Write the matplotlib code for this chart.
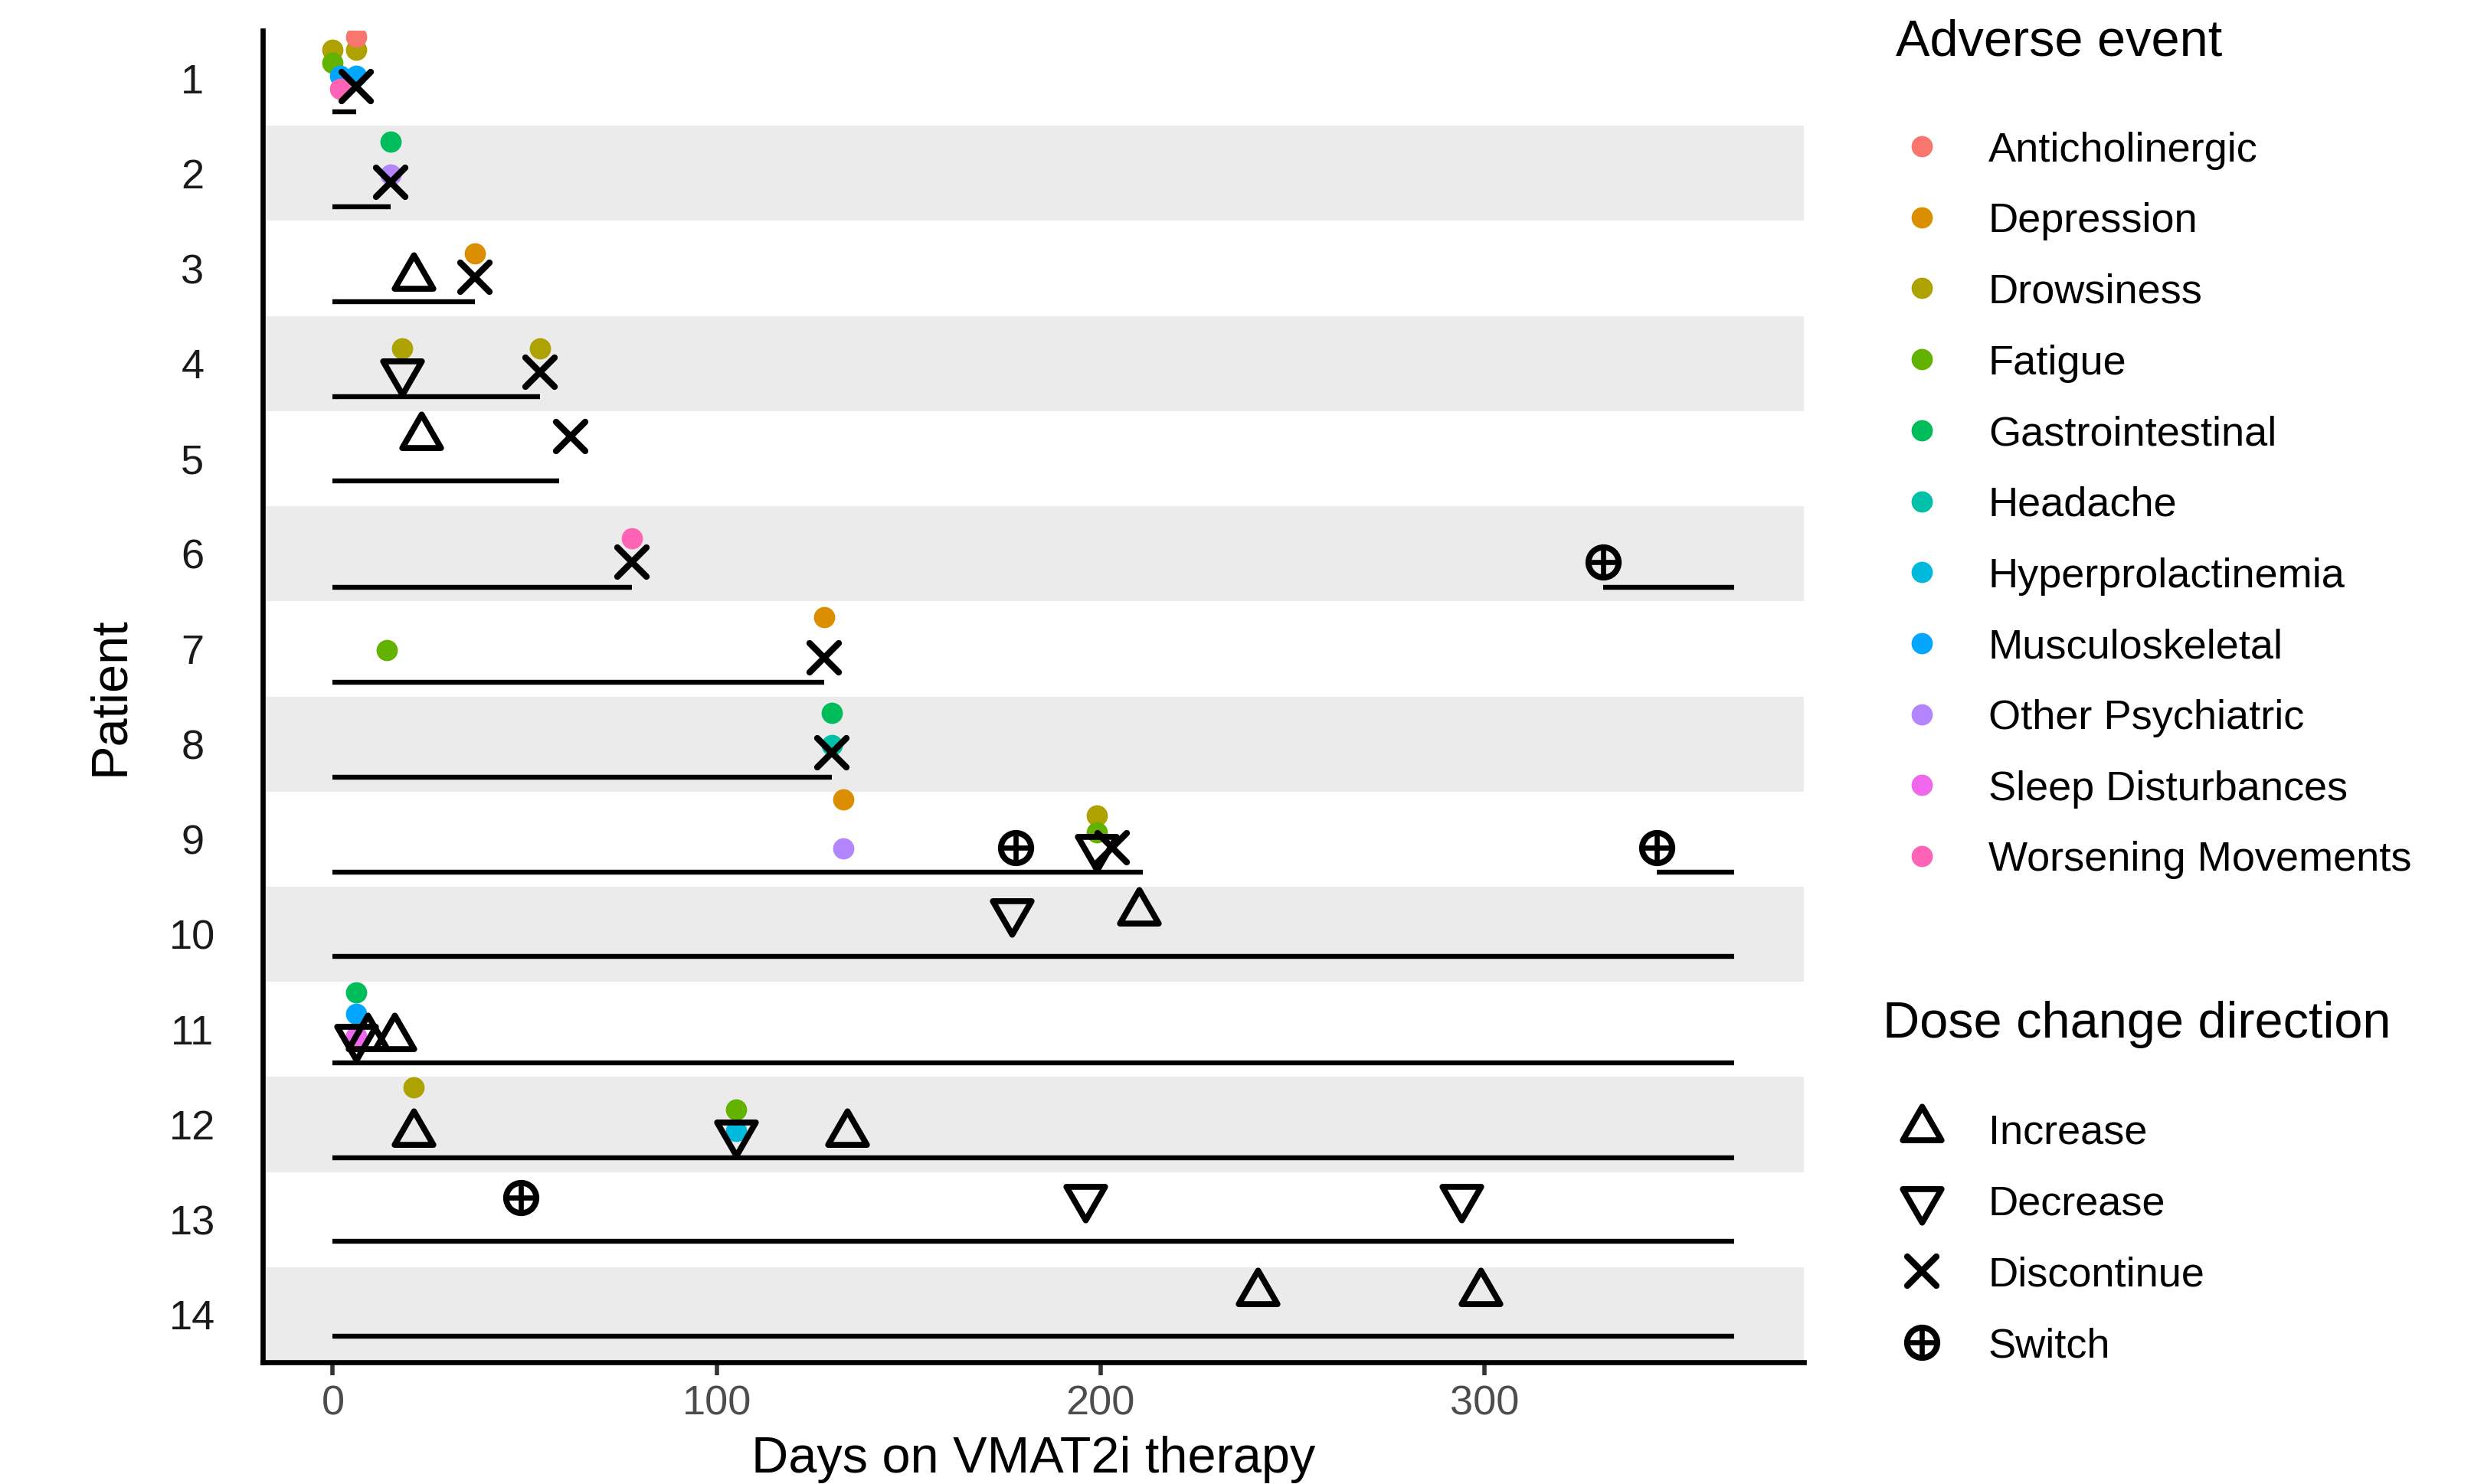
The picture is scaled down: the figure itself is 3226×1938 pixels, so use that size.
import numpy as np
import matplotlib
matplotlib.use("Agg")
import matplotlib.pyplot as plt
from matplotlib.path import Path
from matplotlib.markers import MarkerStyle

plt.rcParams['font.family'] = ['Liberation Sans', 'DejaVu Sans']


# =============================================================================
# DATA
# =============================================================================

patients = list(range(1, 15))

# therapy periods, one entry per drawn segment
seg_patient = [1, 2, 3, 4, 5, 6, 6, 7, 8, 9, 9, 10, 11, 12, 13, 14]
seg_start = [0, 0, 0, 0, 0, 0, 331, 0, 0, 0, 345, 0, 0, 0, 0, 0]
seg_end = [6, 15, 37, 54, 59, 78, 365, 128, 130, 211, 365, 365, 365, 365, 365, 365]

# dose changes
dose_patient = [1, 2, 3, 3, 4, 4, 5, 5, 6, 6,
                7, 8, 9, 9, 9, 9, 10, 10, 11, 11,
                11, 12, 12, 12, 13, 13, 13, 14, 14]
dose_day = [6, 15, 21, 37, 18, 54, 23, 62, 78, 331,
            128, 130, 178, 199, 203, 345, 177, 210, 6, 9,
            16, 21, 105, 134, 49, 196, 294, 241, 299]
dose_type = ["Discontinue", "Discontinue", "Increase", "Discontinue", "Decrease",
             "Discontinue", "Increase", "Discontinue", "Discontinue", "Switch",
             "Discontinue", "Discontinue", "Switch", "Decrease", "Discontinue",
             "Switch", "Decrease", "Increase", "Decrease", "Increase",
             "Increase", "Increase", "Decrease", "Increase", "Switch",
             "Decrease", "Decrease", "Increase", "Increase"]

# adverse events
ae_patient = [1, 1, 1, 1, 1, 1, 1, 2, 2, 3, 4, 4, 6, 7, 7, 8, 8,
              9, 9, 9, 9, 11, 11, 11, 12, 12, 12]
ae_day = [0, 0, 2, 2, 6, 6, 6, 15, 15, 37, 18, 54, 78, 14, 128, 130, 130,
          133, 133, 199, 199, 6, 6, 6, 21, 105, 105]
ae_type = ["Drowsiness", "Fatigue", "Musculoskeletal", "Worsening Movements",
           "Musculoskeletal", "Drowsiness", "Anticholinergic",
           "Gastrointestinal", "Other Psychiatric", "Depression",
           "Drowsiness", "Drowsiness", "Worsening Movements",
           "Fatigue", "Depression", "Gastrointestinal", "Headache",
           "Depression", "Other Psychiatric", "Drowsiness", "Fatigue",
           "Gastrointestinal", "Musculoskeletal", "Sleep Disturbances",
           "Drowsiness", "Fatigue", "Hyperprolactinemia"]

ae_categories = ["Anticholinergic", "Depression", "Drowsiness", "Fatigue",
                 "Gastrointestinal", "Headache", "Hyperprolactinemia",
                 "Musculoskeletal", "Other Psychiatric", "Sleep Disturbances",
                 "Worsening Movements"]
ae_colors = ["#F8766D", "#DB8E00", "#AEA200", "#64B200", "#00BD5C", "#00C1A7",
             "#00BADE", "#00A6FF", "#B385FF", "#EF67EB", "#FF63B6"]

dose_categories = ["Increase", "Decrease", "Discontinue", "Switch"]
x_ticks = [0, 100, 200, 300]


# =============================================================================
# LAYOUT / STYLE
# =============================================================================

W, H = 3226, 1938
DPI = 200

# offsets inside a patient row (row units, positive = downwards)
LINE_OFF_AE, DOSE_OFF_AE = 0.35, 0.09
AE_CENTER, AE_SPREAD = -0.16, 0.68
LINE_OFF_PLAIN, DOSE_OFF_PLAIN = 0.23, -0.23

TRI_UP = Path([(0, 1.555), (1.347, -0.778), (-1.347, -0.778), (0, 1.555)],
              [Path.MOVETO, Path.LINETO, Path.LINETO, Path.CLOSEPOLY])
TRI_DOWN = Path([(0, -1.555), (1.347, 0.778), (-1.347, 0.778), (0, -1.555)],
                [Path.MOVETO, Path.LINETO, Path.LINETO, Path.CLOSEPOLY])

MARKERS = {
    "Increase": dict(marker=MarkerStyle(TRI_UP, joinstyle='round'), ms=21, mew=2.8),
    "Decrease": dict(marker=MarkerStyle(TRI_DOWN, joinstyle='round'), ms=21, mew=2.8),
    "Discontinue": dict(marker=MarkerStyle('x', capstyle='round'), ms=14, mew=3.0),
}
DOT_SIZE = 10


def draw_dose_marker(ax, x, y, kind, zorder=4):
    """Draw one dose-change symbol (open, black)."""
    if kind == "Switch":
        ax.plot(x, y, ls='none', marker='o', ms=14.2, mfc='none', mec='black',
                mew=2.8, zorder=zorder)
        ax.plot(x, y, ls='none', marker=MarkerStyle('+', capstyle='butt'),
                ms=14.2, mec='black', mew=2.4, zorder=zorder)
    else:
        st = MARKERS[kind]
        ax.plot(x, y, ls='none', marker=st["marker"], ms=st["ms"], mfc='none',
                mec='black', mew=st["mew"], zorder=zorder)


def px(x, y):
    """Pixel position (from top left) to figure fraction."""
    return x / W, 1 - y / H


# =============================================================================
# PLOT
# =============================================================================

fig = plt.figure(figsize=(W / DPI, H / DPI), dpi=DPI)
left, top, right, bottom = 343, 40, 2355, 1779
ax = fig.add_axes([left / W, 1 - bottom / H, (right - left) / W, (bottom - top) / H])
ax.set_xlim(-18.25, 383.25)
ax.set_ylim(14.5, 0.5)

# alternating row bands
for p in patients:
    if p % 2 == 0:
        ax.axhspan(p - 0.5, p + 0.5, color='#EBEBEB', lw=0, zorder=0)

has_ae = set(ae_patient)

# therapy lines
seg_y = [p + (LINE_OFF_AE if p in has_ae else LINE_OFF_PLAIN) for p in seg_patient]
lc = ax.hlines(seg_y, seg_start, seg_end, color='black', lw=2.3, zorder=2)
lc.set_capstyle('butt')

# adverse events, dodged by category inside each patient row
for p in sorted(has_ae):
    cats = sorted({t for pp, t in zip(ae_patient, ae_type) if pp == p})
    n = len(cats)
    for d, pp, t in zip(ae_day, ae_patient, ae_type):
        if pp != p:
            continue
        i = cats.index(t)
        y = p + AE_CENTER + (i - (n - 1) / 2) * AE_SPREAD / n
        ax.plot(d, y, ls='none', marker='o', ms=DOT_SIZE, mew=0,
                color=ae_colors[ae_categories.index(t)], zorder=3)

# dose changes
for p, d, t in zip(dose_patient, dose_day, dose_type):
    y = p + (DOSE_OFF_AE if p in has_ae else DOSE_OFF_PLAIN)
    draw_dose_marker(ax, d, y, t)

# axes styling (classic look)
for s in ['top', 'right']:
    ax.spines[s].set_visible(False)
for s in ['left', 'bottom']:
    ax.spines[s].set_linewidth(2.4)
    ax.spines[s].set_color('black')

ax.set_xticks(x_ticks)
ax.set_xticklabels([str(v) for v in x_ticks])
ax.tick_params(axis='x', length=6, width=2, color='#333333', pad=4.5,
               labelsize=19.5, labelcolor='#4D4D4D')
ax.set_yticks(patients)
ax.set_yticklabels([str(p) for p in patients])
ax.tick_params(axis='y', length=0, pad=33, labelsize=19.5, labelcolor='#1A1A1A')
for lbl in ax.get_yticklabels():
    lbl.set_horizontalalignment('center')

# axis titles
fig.text(*px((left + right) / 2, 1923), "Days on VMAT2i therapy", fontsize=24,
         ha='center', va='baseline')
fig.text(*px(161, (top + bottom) / 2), "Patient", fontsize=24, rotation=90,
         rotation_mode='anchor', ha='center', va='baseline')

# =============================================================================
# LEGENDS (drawn by hand in pixel coordinates)
# =============================================================================

lax = fig.add_axes([0, 0, 1, 1])
lax.set_xlim(0, W)
lax.set_ylim(H, 0)
lax.axis('off')

key_x, text_x = 2509, 2596
lax.text(2475, 72, "Adverse event", fontsize=24, ha='left', va='baseline')
for i, (cat, col) in enumerate(zip(ae_categories, ae_colors)):
    y = 191 + 92.7 * i
    lax.plot(key_x, y, ls='none', marker='o', ms=DOT_SIZE, mew=0, color=col)
    lax.text(text_x, y + 19.5, cat, fontsize=19.5, ha='left', va='baseline')

lax.text(2458, 1355, "Dose change direction", fontsize=24, ha='left', va='baseline')
for i, cat in enumerate(dose_categories):
    y = 1474 + 93 * i
    draw_dose_marker(lax, key_x, y, cat)
    lax.text(text_x, y + 19.5, cat, fontsize=19.5, ha='left', va='baseline')

fig.savefig("out.png", dpi=DPI)
